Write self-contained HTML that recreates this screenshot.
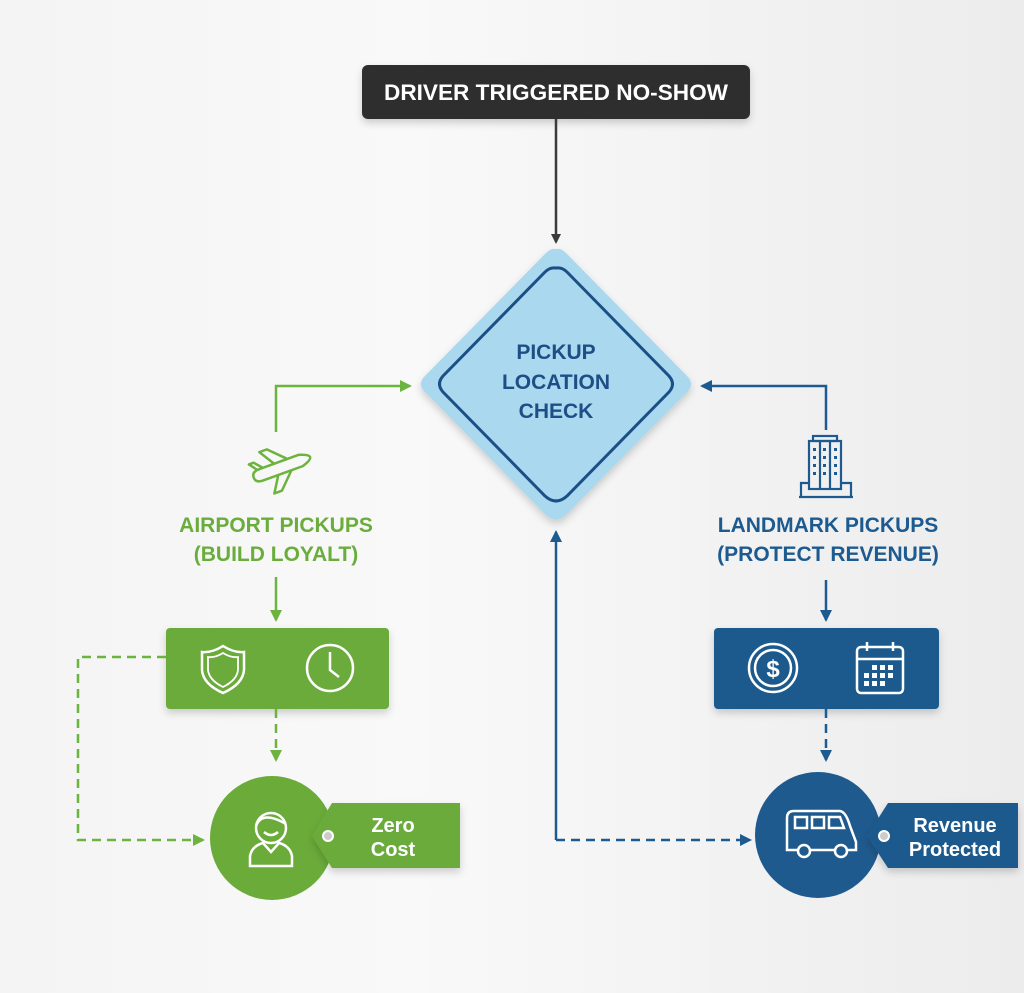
<!DOCTYPE html>
<html><head><meta charset="utf-8"><style>
html,body{margin:0;padding:0;width:1024px;height:993px;overflow:hidden;background:linear-gradient(90deg,#f4f4f4,#f9f9f9 40%,#ececec 100%);}
svg{display:block}
text{font-family:"Liberation Sans",sans-serif;font-weight:bold}
</style></head><body>
<svg width="1024" height="993" viewBox="0 0 1024 993" xmlns="http://www.w3.org/2000/svg">
<defs>
<filter id="sh" x="-20%" y="-20%" width="140%" height="150%"><feDropShadow dx="0" dy="4" stdDeviation="4" flood-opacity="0.18"/></filter>
<marker id="ak" markerWidth="10" markerHeight="10" refX="8" refY="5" orient="auto" markerUnits="userSpaceOnUse"><path d="M0,0 L10,5 L0,10 Z" fill="#3a3a3a"/></marker>
<marker id="ag" markerWidth="12" markerHeight="12" refX="10" refY="6" orient="auto" markerUnits="userSpaceOnUse"><path d="M0,0 L12,6 L0,12 Z" fill="#6db33f"/></marker>
<marker id="ab" markerWidth="12" markerHeight="12" refX="10" refY="6" orient="auto" markerUnits="userSpaceOnUse"><path d="M0,0 L12,6 L0,12 Z" fill="#1d5a8f"/></marker>
</defs>

<rect x="362" y="65" width="388" height="54" rx="6" fill="#2f2f2f" filter="url(#sh)"/>
<text x="556" y="100" font-size="22.5" fill="#fff" text-anchor="middle" textLength="344" lengthAdjust="spacingAndGlyphs">DRIVER TRIGGERED NO-SHOW</text>
<line x1="556" y1="119" x2="556" y2="242" stroke="#3a3a3a" stroke-width="2.5" marker-end="url(#ak)"/>

<path d="M556,249 Q561,248 566,253 L688,377 Q694,384 688,391 L566,515 Q556,524 546,515 L424,391 Q418,384 424,377 L546,253 Q551,248 556,249 Z" fill="#a9d8ef" filter="url(#sh)"/>
<path d="M556,268 Q562,267 567,272 L669,376 Q676,384 669,392 L567,496 Q556,506 545,496 L443,392 Q436,384 443,376 L545,272 Q550,267 556,268 Z" fill="none" stroke="#1b4f86" stroke-width="3"/>
<text font-size="21" fill="#1d4f86" text-anchor="middle"><tspan x="556" y="359">PICKUP</tspan><tspan x="556" y="389">LOCATION</tspan><tspan x="556" y="418">CHECK</tspan></text>

<polyline points="276,432 276,386 410,386" fill="none" stroke="#6db33f" stroke-width="2.5" marker-end="url(#ag)"/>
<g transform="translate(280,468) rotate(-20)" fill="none" stroke="#6db33f" stroke-width="2.5" stroke-linejoin="round">
<path d="M-28,0 Q-28,-6 -20,-6 L22,-6 Q32,-3 32,0 Q32,3 22,6 L-20,6 Q-28,6 -28,0 Z"/>
<path d="M-4,-6 L-14,-22 L-6,-22 L10,-6"/>
<path d="M-4,6 L-14,22 L-6,22 L10,6"/>
<path d="M-22,-6 L-28,-14 L-23,-14 L-16,-6"/>
</g>
<text font-size="21" fill="#6aad3d" text-anchor="middle"><tspan x="276" y="532">AIRPORT PICKUPS</tspan><tspan x="276" y="561">(BUILD LOYALT)</tspan></text>
<line x1="276" y1="577" x2="276" y2="620" stroke="#6db33f" stroke-width="2.5" marker-end="url(#ag)"/>
<rect x="166" y="628" width="223" height="81" rx="4" fill="#6aab3a" filter="url(#sh)"/>
<g fill="none" stroke="#fff" stroke-width="2.5">
<path d="M223,646 Q212,653 202,652 L202,670 Q203,684 223,693 Q243,684 244,670 L244,652 Q234,653 223,646 Z"/>
<path d="M223,653 Q215,658 208,657 L208,670 Q209,680 223,687 Q237,680 238,670 L238,657 Q231,658 223,653 Z" stroke-width="1.8"/>
<circle cx="330" cy="668" r="23"/>
<path d="M330,652 L330,670 L339,677"/>
</g>
<line x1="276" y1="709" x2="276" y2="760" stroke="#6db33f" stroke-width="2.5" stroke-dasharray="9,6" marker-end="url(#ag)"/>
<polyline points="166,657 78,657 78,840 203,840" fill="none" stroke="#6db33f" stroke-width="2.5" stroke-dasharray="9,6" marker-end="url(#ag)"/>
<circle cx="272" cy="838" r="62" fill="#6aab3a"/>
<path d="M332,803 L460,803 L460,868 L332,868 L312,836 Z" fill="#6aab3a" filter="url(#sh)"/>
<circle cx="328" cy="836" r="5" fill="#ccc" stroke="#fff" stroke-width="2"/>
<g fill="none" stroke="#fff" stroke-width="2.5">
<circle cx="271" cy="828" r="15"/>
<path d="M256,826 Q262,810 286,824"/>
<path d="M264,832 Q271,838 278,832"/>
<path d="M250,866 L250,856 Q252,846 263,843 L271,852 L279,843 Q290,846 292,856 L292,866 Z"/>
</g>
<text font-size="20" fill="#fff" text-anchor="middle"><tspan x="393" y="832">Zero</tspan><tspan x="393" y="856">Cost</tspan></text>

<polyline points="826,430 826,386 702,386" fill="none" stroke="#1d5a8f" stroke-width="2.5" marker-end="url(#ab)"/>
<g fill="none" stroke="#1d5a8f" stroke-width="2.2">
<rect x="809" y="441" width="32" height="48"/>
<rect x="813" y="436" width="24" height="5"/>
<line x1="820" y1="441" x2="820" y2="489"/><line x1="830" y1="441" x2="830" y2="489"/>
<path d="M799,497 L853,497 M801,497 L801,483 L809,483 M841,483 L851,483 L851,497"/>
</g>
<g fill="#1d5a8f"><rect x="813" y="448" width="3" height="3"/><rect x="813" y="456" width="3" height="3"/><rect x="813" y="464" width="3" height="3"/><rect x="813" y="472" width="3" height="3"/><rect x="823" y="448" width="3" height="3"/><rect x="823" y="456" width="3" height="3"/><rect x="823" y="464" width="3" height="3"/><rect x="823" y="472" width="3" height="3"/><rect x="834" y="448" width="3" height="3"/><rect x="834" y="456" width="3" height="3"/><rect x="834" y="464" width="3" height="3"/><rect x="834" y="472" width="3" height="3"/></g>
<text font-size="21" fill="#1d5a8f" text-anchor="middle"><tspan x="828" y="532">LANDMARK PICKUPS</tspan><tspan x="828" y="561">(PROTECT REVENUE)</tspan></text>
<line x1="826" y1="580" x2="826" y2="620" stroke="#1d5a8f" stroke-width="2.5" marker-end="url(#ab)"/>
<rect x="714" y="628" width="225" height="81" rx="4" fill="#1f5a8e" filter="url(#sh)"/>
<g fill="none" stroke="#fff" stroke-width="2.5">
<circle cx="773" cy="668" r="24"/><circle cx="773" cy="668" r="18"/>
<rect x="857" y="647" width="46" height="46" rx="4"/><line x1="857" y1="659" x2="903" y2="659"/>
<line x1="867" y1="642" x2="867" y2="651"/><line x1="893" y1="642" x2="893" y2="651"/>
</g>
<text x="773" y="677" font-size="24" fill="#fff" text-anchor="middle">$</text>
<g fill="#fff"><rect x="872" y="665" width="5" height="5"/><rect x="880" y="665" width="5" height="5"/><rect x="888" y="665" width="5" height="5"/><rect x="864" y="673" width="5" height="5"/><rect x="872" y="673" width="5" height="5"/><rect x="880" y="673" width="5" height="5"/><rect x="888" y="673" width="5" height="5"/><rect x="864" y="681" width="5" height="5"/><rect x="872" y="681" width="5" height="5"/><rect x="880" y="681" width="5" height="5"/></g>
<line x1="826" y1="709" x2="826" y2="760" stroke="#1d5a8f" stroke-width="2.5" stroke-dasharray="9,6" marker-end="url(#ab)"/>
<line x1="556" y1="840" x2="556" y2="532" stroke="#1d5a8f" stroke-width="2.5" marker-end="url(#ab)"/>
<line x1="556" y1="840" x2="750" y2="840" stroke="#1d5a8f" stroke-width="2.5" stroke-dasharray="9,6" marker-end="url(#ab)"/>
<circle cx="818" cy="835" r="63" fill="#1f5a8e"/>
<path d="M888,803 L1018,803 L1018,868 L888,868 L867,836 Z" fill="#1f5a8e" filter="url(#sh)"/>
<circle cx="884" cy="836" r="5" fill="#ccc" stroke="#fff" stroke-width="2"/>
<g fill="none" stroke="#fff" stroke-width="2.5">
<path d="M787,850 L787,818 Q787,811 794,811 L840,811 Q846,812 850,826 L856,842 L856,850 Z"/>
<rect x="795" y="817" width="12" height="11"/><rect x="812" y="817" width="12" height="11"/>
<path d="M829,817 L840,817 L844,828 L829,828 Z"/>
<circle cx="804" cy="851" r="6" fill="#1f5a8e"/><circle cx="841" cy="851" r="6" fill="#1f5a8e"/>
</g>
<text font-size="20" fill="#fff" text-anchor="middle"><tspan x="955" y="832">Revenue</tspan><tspan x="955" y="856">Protected</tspan></text>
</svg>
</body></html>
